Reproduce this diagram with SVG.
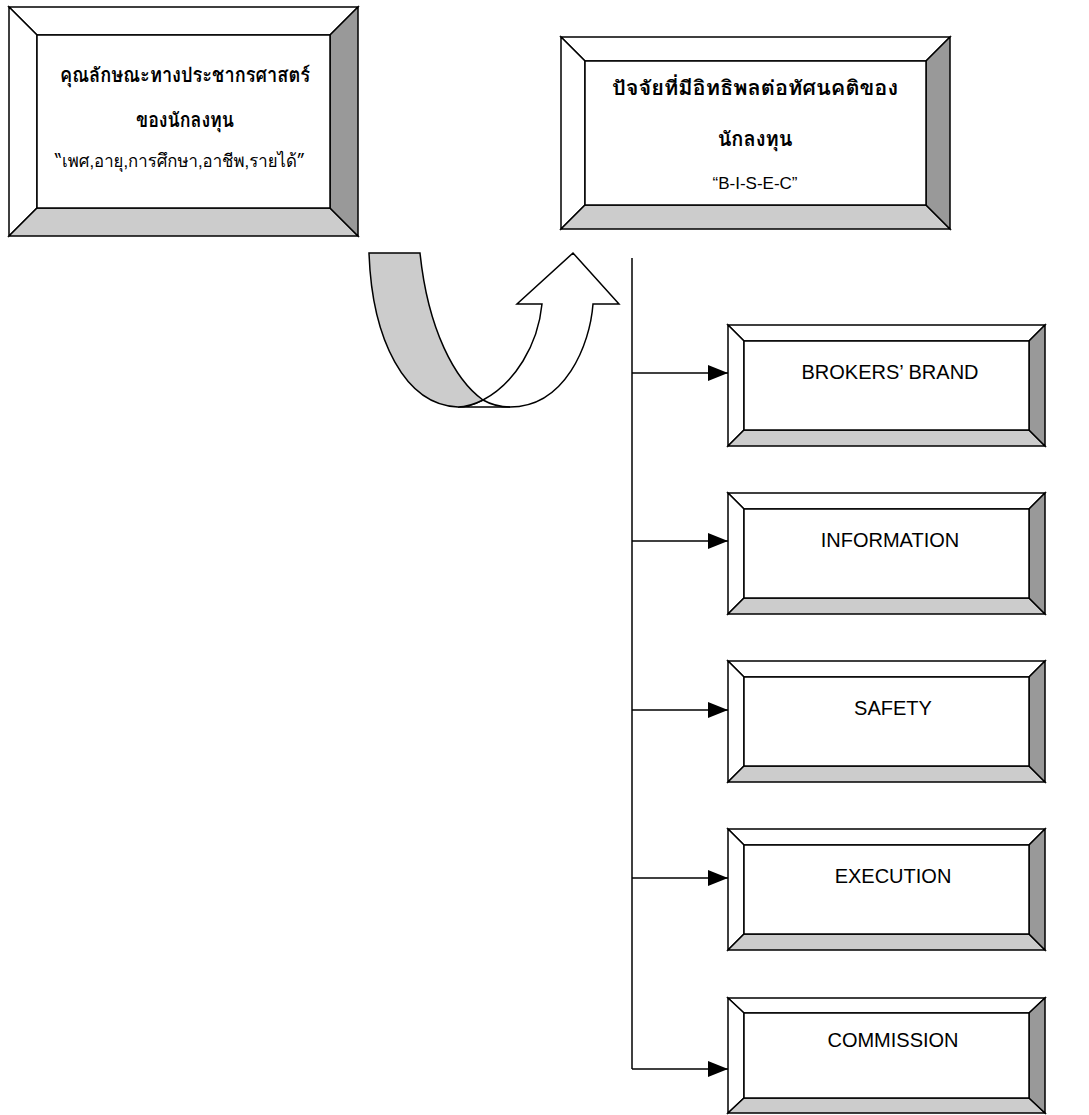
<svg xmlns="http://www.w3.org/2000/svg" width="1089" height="1115" viewBox="0 0 1089 1115">
<style>
.b{stroke:#000;stroke-width:1.5;stroke-linejoin:miter}
.w{fill:#fff}
.lg{fill:#ccc}
.dg{fill:#999}
.th{font-family:"Loma","Garuda","Tahoma","Noto Sans Thai Looped","Noto Sans Thai","Liberation Sans",sans-serif;fill:#000;text-anchor:middle}
.tb{font-weight:bold;font-size:20px}
.tr{font-size:18px}
.en{font-family:"Liberation Sans",Arial,sans-serif;font-size:20px;fill:#000;text-anchor:middle}
.ln{stroke:#000;stroke-width:1.5;fill:none}
</style>
<defs>
<marker id="ah" markerWidth="20" markerHeight="16" refX="20" refY="8" orient="auto" markerUnits="userSpaceOnUse">
<path d="M0,0 L20,8 L0,16 Z" fill="#000"/>
</marker>
</defs>
<rect width="1089" height="1115" fill="#fff"/>

<g id="demographics">
<polygon class="b w" points="9,7 358,7 330,35 37,35"/>
<polygon class="b w" points="9,7 37,35 37,208 9,236"/>
<polygon class="b lg" points="9,236 37,208 330,208 358,236"/>
<polygon class="b dg" points="358,7 358,236 330,208 330,35"/>
<rect class="b w" x="37" y="35" width="293" height="173"/>
<text class="th tb" x="185" y="82" textLength="250" lengthAdjust="spacingAndGlyphs">คุณลักษณะทางประชากรศาสตร์</text>
<text class="th tb" x="185" y="127" textLength="98" lengthAdjust="spacingAndGlyphs">ของนักลงทุน</text>
<text class="th tr" x="180" y="167" textLength="250" lengthAdjust="spacingAndGlyphs">“เพศ,อายุ,การศึกษา,อาชีพ,รายได้”</text>
</g>

<g id="factors">
<polygon class="b w" points="561,37 950,37 926,61 585,61"/>
<polygon class="b w" points="561,37 585,61 585,205 561,229"/>
<polygon class="b lg" points="561,229 585,205 926,205 950,229"/>
<polygon class="b dg" points="950,37 950,229 926,205 926,61"/>
<rect class="b w" x="585" y="61" width="341" height="144"/>
<text class="th tb" x="755" y="95" textLength="286" lengthAdjust="spacingAndGlyphs">ปัจจัยที่มีอิทธิพลต่อทัศนคติของ</text>
<text class="th tb" x="755" y="146">นักลงทุน</text>
<text class="en" x="755" y="189" style="font-size:17px">“B-I-S-E-C”</text>
</g>

<g id="uturn-arrow">
<path class="b w" d="M458,407 L510,407 C565,407 590,345 593,304 L619,304 L573,253 L517,304 L542,304 C538,345 515,383 483,400 C475,404 466,407 458,407 Z"/>
<path class="b lg" d="M369,253 L420,253 C428,330 455,380 483,400 C475,404 466,407 458,407 C405,405 372,340 369,253 Z"/>
<path class="ln" d="M483,400 C490,404 498,407 510,407"/>
</g>

<g id="brand">
<polygon class="b w" points="728,325 1045,325 1029,341 744,341"/>
<polygon class="b w" points="728,325 744,341 744,430 728,446"/>
<polygon class="b lg" points="728,446 744,430 1029,430 1045,446"/>
<polygon class="b dg" points="1045,325 1045,446 1029,430 1029,341"/>
<rect class="b w" x="744" y="341" width="285" height="89"/>
<text class="en" x="890" y="379">BROKERS’ BRAND</text>
</g>

<g id="information">
<polygon class="b w" points="728,493 1045,493 1029,509 744,509"/>
<polygon class="b w" points="728,493 744,509 744,598 728,614"/>
<polygon class="b lg" points="728,614 744,598 1029,598 1045,614"/>
<polygon class="b dg" points="1045,493 1045,614 1029,598 1029,509"/>
<rect class="b w" x="744" y="509" width="285" height="89"/>
<text class="en" x="890" y="547">INFORMATION</text>
</g>

<g id="safety">
<polygon class="b w" points="728,661 1045,661 1029,677 744,677"/>
<polygon class="b w" points="728,661 744,677 744,766 728,782"/>
<polygon class="b lg" points="728,782 744,766 1029,766 1045,782"/>
<polygon class="b dg" points="1045,661 1045,782 1029,766 1029,677"/>
<rect class="b w" x="744" y="677" width="285" height="89"/>
<text class="en" x="893" y="715">SAFETY</text>
</g>

<g id="execution">
<polygon class="b w" points="728,829 1045,829 1029,845 744,845"/>
<polygon class="b w" points="728,829 744,845 744,934 728,950"/>
<polygon class="b lg" points="728,950 744,934 1029,934 1045,950"/>
<polygon class="b dg" points="1045,829 1045,950 1029,934 1029,845"/>
<rect class="b w" x="744" y="845" width="285" height="89"/>
<text class="en" x="893" y="883">EXECUTION</text>
</g>

<g id="commission">
<polygon class="b w" points="728,998 1045,998 1029,1013 744,1013"/>
<polygon class="b w" points="728,998 744,1013 744,1098 728,1113"/>
<polygon class="b lg" points="728,1113 744,1098 1029,1098 1045,1113"/>
<polygon class="b dg" points="1045,998 1045,1113 1029,1098 1029,1013"/>
<rect class="b w" x="744" y="1013" width="285" height="85"/>
<text class="en" x="893" y="1047">COMMISSION</text>
</g>

<g id="connectors">
<path class="ln" d="M632,258 L632,1069"/>
<path class="ln" d="M632,373 L728,373" marker-end="url(#ah)"/>
<path class="ln" d="M632,541 L728,541" marker-end="url(#ah)"/>
<path class="ln" d="M632,710 L728,710" marker-end="url(#ah)"/>
<path class="ln" d="M632,878 L728,878" marker-end="url(#ah)"/>
<path class="ln" d="M632,1069 L728,1069" marker-end="url(#ah)"/>
</g>
</svg>
